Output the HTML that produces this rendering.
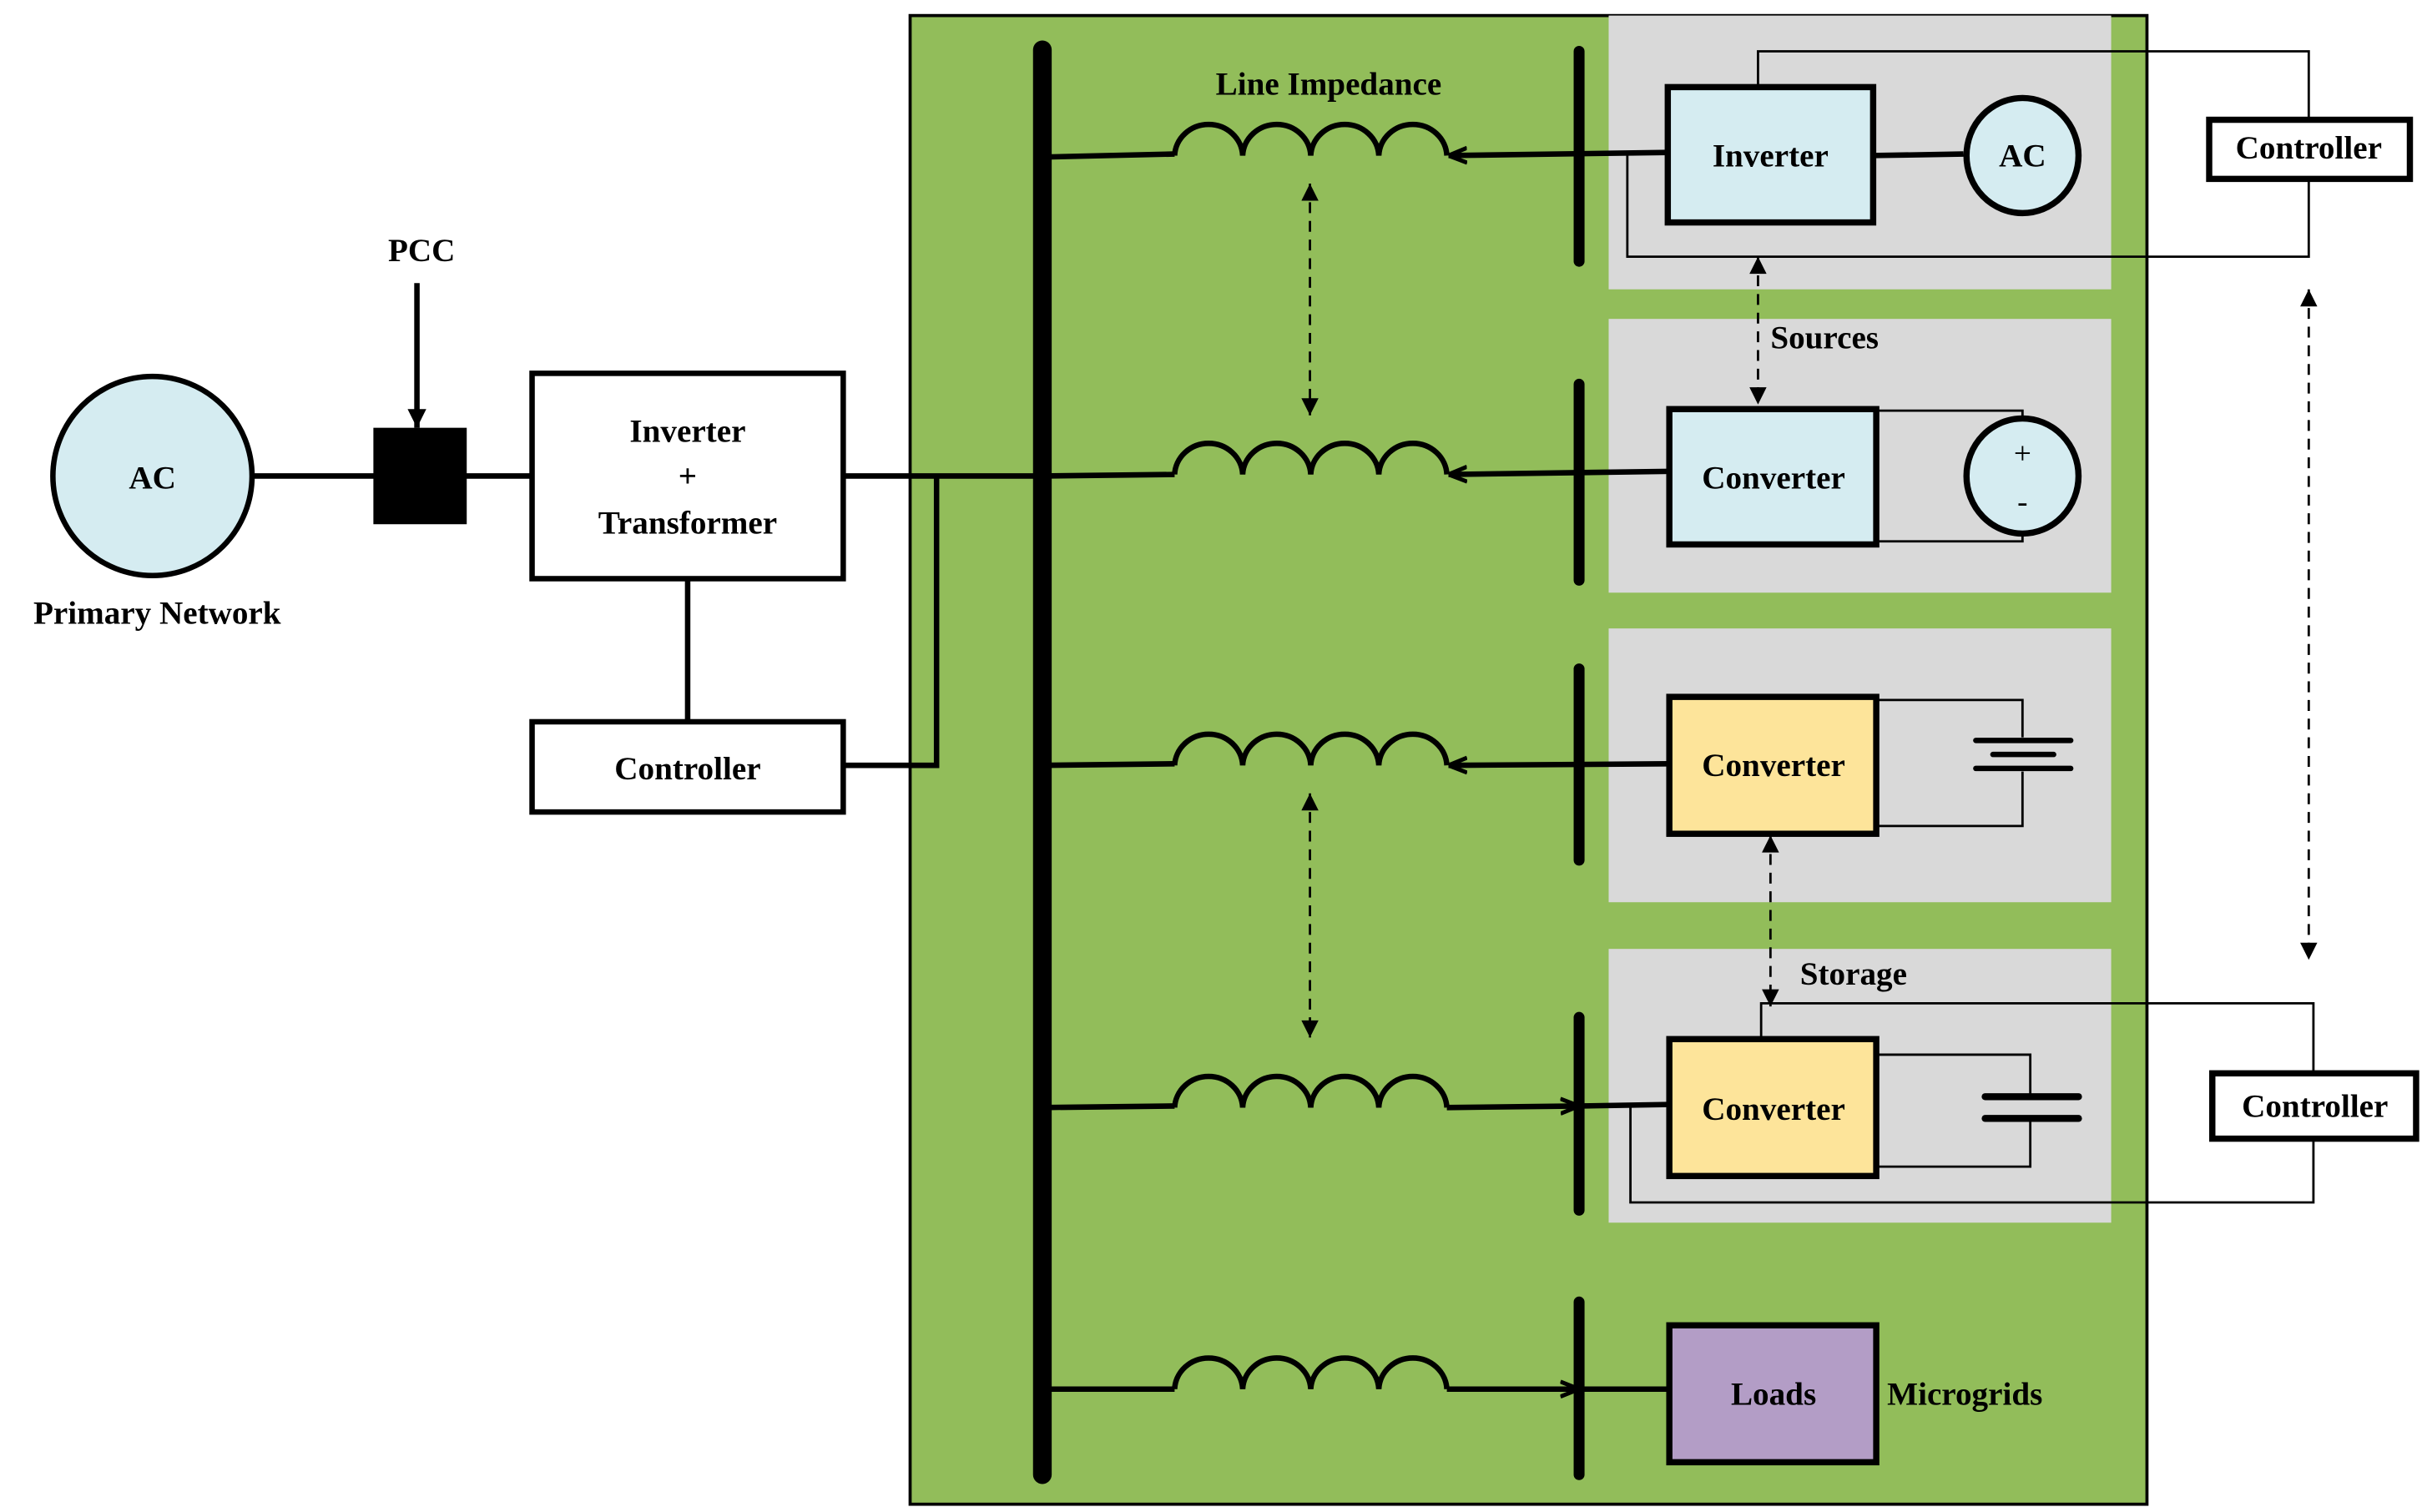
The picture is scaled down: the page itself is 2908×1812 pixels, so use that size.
<!DOCTYPE html>
<html><head><meta charset="utf-8"><style>
html,body{margin:0;padding:0;background:#fff;}
svg{display:block;}
text{font-family:"Liberation Serif",serif;font-weight:bold;font-size:21px;fill:#000;}
</style></head><body>
<svg width="2908" height="1812" viewBox="0 0 1560 972" preserveAspectRatio="none" xmlns="http://www.w3.org/2000/svg">
<defs>
<marker id="ah" viewBox="0 0 10 10" refX="10" refY="5" markerWidth="16" markerHeight="11" orient="auto-start-reverse" markerUnits="userSpaceOnUse"><path d="M0,0 L10,5 L0,10 z" fill="#000"/></marker>
<marker id="ahs" viewBox="0 0 10 10" refX="10" refY="5" markerWidth="12" markerHeight="14" orient="auto-start-reverse" markerUnits="userSpaceOnUse"><path d="M0,1 L10,5 L0,9" fill="none" stroke="#000" stroke-width="2.2"/></marker>
<marker id="arr" viewBox="0 0 10 10" refX="10" refY="5" markerWidth="14" markerHeight="12" orient="auto" markerUnits="userSpaceOnUse"><path d="M0,0 L10,5 L0,10 z" fill="#000"/></marker>
<g id="ind"><path d="M755,0 a21.9,21 0 0 1 43.75,0 a21.9,21 0 0 1 43.75,0 a21.9,21 0 0 1 43.75,0 a21.9,21 0 0 1 43.75,0" fill="none" stroke="#000" stroke-width="3.5"/></g>
</defs>
<rect x="585" y="10" width="795" height="957" fill="#92bd5a" stroke="#000" stroke-width="2"/>
<rect x="1034" y="10" width="323" height="176" fill="#d9d9d9"/>
<rect x="1034" y="205" width="323" height="176" fill="#d9d9d9"/>
<rect x="1034" y="404" width="323" height="176" fill="#d9d9d9"/>
<rect x="1034" y="610" width="323" height="176" fill="#d9d9d9"/>

<line x1="670" y1="32" x2="670" y2="948" stroke="#000" stroke-width="12" stroke-linecap="round"/>
<g stroke="#000" stroke-width="7" stroke-linecap="round">
<line x1="1015" y1="33" x2="1015" y2="168"/>
<line x1="1015" y1="247" x2="1015" y2="373"/>
<line x1="1015" y1="430" x2="1015" y2="553"/>
<line x1="1015" y1="654" x2="1015" y2="778"/>
<line x1="1015" y1="837" x2="1015" y2="948"/>
</g>

<g stroke="#000" stroke-width="3.5" fill="none">
<line x1="670" y1="101" x2="755" y2="99"/><use href="#ind" y="100"/>
<line x1="1073" y1="98" x2="931" y2="100" marker-end="url(#ahs)"/>
<line x1="670" y1="306" x2="755" y2="305"/><use href="#ind" y="305"/>
<line x1="1073" y1="303" x2="931" y2="305" marker-end="url(#ahs)"/>
<line x1="670" y1="492" x2="755" y2="491"/><use href="#ind" y="492"/>
<line x1="1073" y1="491" x2="931" y2="492" marker-end="url(#ahs)"/>
<line x1="670" y1="712" x2="755" y2="711"/><use href="#ind" y="712"/>
<line x1="930" y1="712" x2="1015" y2="711" marker-end="url(#ahs)"/><line x1="1015" y1="711" x2="1073" y2="710"/>
<line x1="670" y1="893" x2="755" y2="893"/><use href="#ind" y="893"/>
<line x1="930" y1="893" x2="1015" y2="893" marker-end="url(#ahs)"/><line x1="1015" y1="893" x2="1073" y2="893"/>
<line x1="1204" y1="100" x2="1262" y2="99"/>
</g>

<g stroke="#000" stroke-width="1.5" fill="none">
<polyline points="1130,56 1130,33 1484,33 1484,77"/>
<polyline points="1484,115 1484,165 1046,165 1046,100"/>
<polyline points="1206,264 1300,264 1300,269"/>
<polyline points="1206,348 1300,348 1300,343"/>
<polyline points="1206,450 1300,450 1300,474"/>
<polyline points="1300,496 1300,531 1206,531"/>
<polyline points="1206,678 1305,678 1305,705"/>
<polyline points="1305,719 1305,750 1206,750"/>
<polyline points="1132,668 1132,645 1487,645 1487,690"/>
<polyline points="1487,732 1487,773 1048,773 1048,712"/>
</g>
<g stroke="#000" stroke-linecap="round">
<line x1="1270" y1="476" x2="1331" y2="476" stroke-width="3.5"/>
<line x1="1281" y1="485" x2="1320" y2="485" stroke-width="3.5"/>
<line x1="1270" y1="494" x2="1331" y2="494" stroke-width="3.5"/>
<line x1="1276" y1="705" x2="1336" y2="705" stroke-width="4.5"/>
<line x1="1276" y1="719" x2="1336" y2="719" stroke-width="4.5"/>
</g>

<g stroke="#000" stroke-width="1.5" stroke-dasharray="7,5" fill="none">
<line x1="842" y1="118" x2="842" y2="267" marker-start="url(#ah)" marker-end="url(#ah)"/>
<line x1="842" y1="510" x2="842" y2="667" marker-start="url(#ah)" marker-end="url(#ah)"/>
<line x1="1130" y1="165" x2="1130" y2="260" marker-start="url(#ah)" marker-end="url(#ah)"/>
<line x1="1138" y1="537" x2="1138" y2="647" marker-start="url(#ah)" marker-end="url(#ah)"/>
<line x1="1484" y1="186" x2="1484" y2="617" marker-start="url(#ah)" marker-end="url(#ah)"/>
</g>

<g stroke="#000" stroke-width="4">
<rect x="1072" y="56" width="132" height="87" fill="#d5ecf1"/>
<ellipse cx="1300" cy="100" rx="36" ry="37" fill="#d5ecf1"/>
<rect x="1073" y="263" width="133" height="87" fill="#d5ecf1"/>
<ellipse cx="1300" cy="306" rx="36" ry="37" fill="#d5ecf1"/>
<rect x="1073" y="448" width="133" height="88" fill="#fde49a"/>
<rect x="1073" y="668" width="133" height="88" fill="#fde49a"/>
<rect x="1073" y="852" width="133" height="88" fill="#b39dc6"/>
<rect x="1420" y="77" width="129" height="38" fill="#fff"/>
<rect x="1422" y="690" width="131" height="42" fill="#fff"/>
<ellipse cx="98" cy="306" rx="64" ry="64" fill="#d5ecf1" stroke-width="3.5"/>
<rect x="242" y="277" width="56" height="58" fill="#000"/>
<rect x="342" y="240" width="200" height="132" fill="#fff" stroke-width="3.5"/>
<rect x="342" y="464" width="200" height="58" fill="#fff" stroke-width="3.5"/>
</g>
<g stroke="#000" stroke-width="3.5" fill="none">
<line x1="162" y1="306" x2="242" y2="306"/>
<line x1="298" y1="306" x2="342" y2="306"/>
<line x1="542" y1="306" x2="670" y2="306"/>
<line x1="442" y1="372" x2="442" y2="464"/>
<polyline points="542,492 602,492 602,306"/>
<line x1="268" y1="182" x2="268" y2="275" marker-end="url(#arr)"/>
</g>

<g text-anchor="middle">
<text x="1138" y="107">Inverter</text>
<text x="1300" y="107">AC</text>
<text x="1140" y="314">Converter</text>
<text x="1300" y="298" style="font-weight:normal;font-size:20px">+</text>
<text x="1300" y="329" style="font-weight:normal;font-size:20px">-</text>
<text x="1140" y="499">Converter</text>
<text x="1140" y="720">Converter</text>
<text x="1140" y="903">Loads</text>
<text x="1484" y="102">Controller</text>
<text x="1488" y="718">Controller</text>
<text x="98" y="314">AC</text>
<text x="101" y="401">Primary Network</text>
<text x="271" y="168">PCC</text>
<text x="442" y="284">Inverter</text>
<text x="442" y="313">+</text>
<text x="442" y="343">Transformer</text>
<text x="442" y="501">Controller</text>
<text x="854" y="61">Line Impedance</text>
</g>
<text x="1138" y="224">Sources</text>
<text x="1157" y="633">Storage</text>
<text x="1213" y="903">Microgrids</text>
</svg>
</body></html>
